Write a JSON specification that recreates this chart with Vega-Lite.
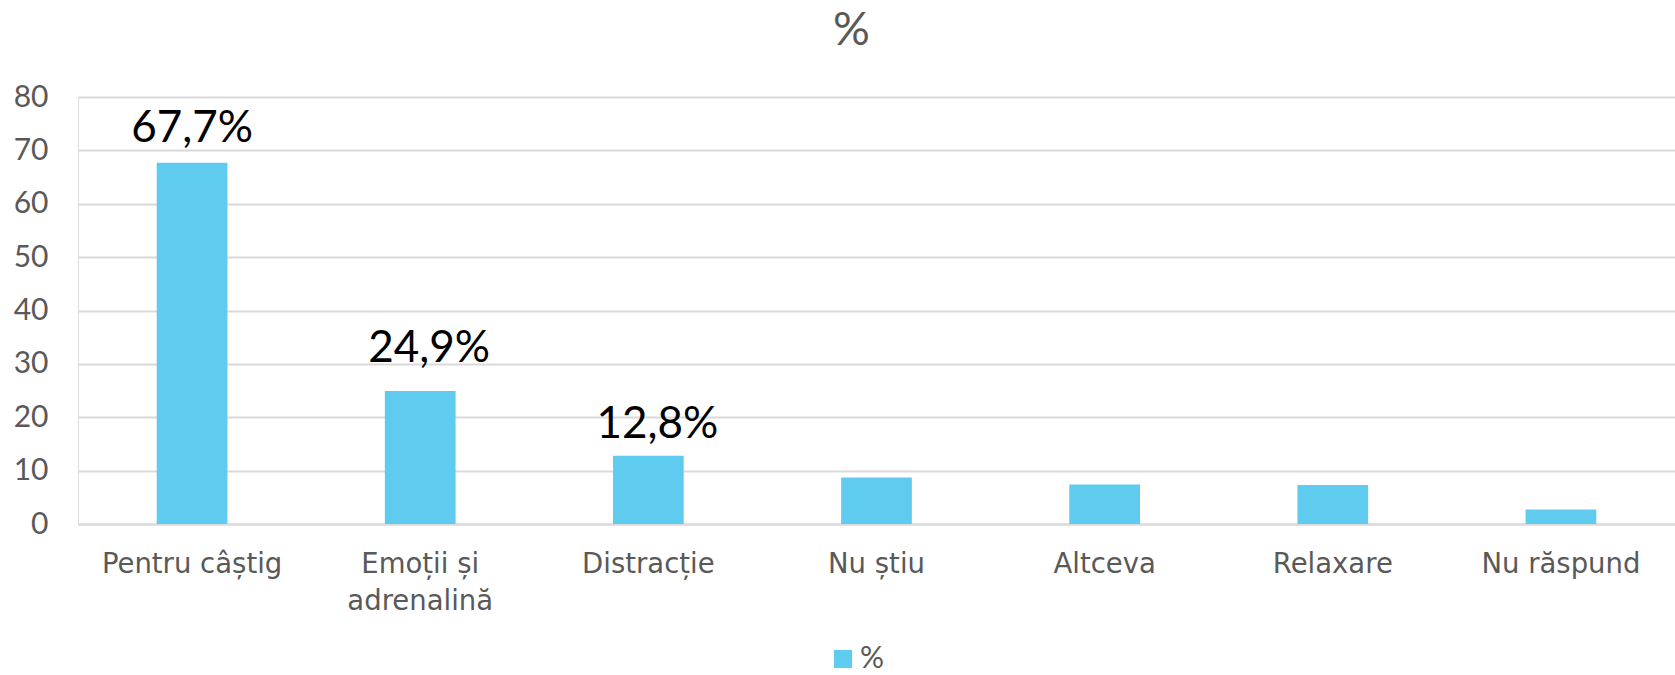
{
  "$schema": "https://vega.github.io/schema/vega-lite/v6.json",
  "width": 1597,
  "height": 427,
  "autosize": {"type": "none"},
  "padding": {"left": 78, "top": 97, "right": 0, "bottom": 151},
  "background": "white",
  "title": {"text": "%", "fontSize": 46, "font": "Lato", "fontWeight": "normal", "color": "#595959", "anchor": "middle", "dx": -25, "offset": 27},
  "data": {"values": [
    {"cat": "Pentru câștig", "v": 67.7, "label": "67,7%"},
    {"cat": "Emoții și adrenalină", "v": 24.9, "label": "24,9%"},
    {"cat": "Distracție", "v": 12.8, "label": "12,8%"},
    {"cat": "Nu știu", "v": 8.7, "label": ""},
    {"cat": "Altceva", "v": 7.4, "label": ""},
    {"cat": "Relaxare", "v": 7.3, "label": ""},
    {"cat": "Nu răspund", "v": 2.7, "label": ""}
  ]},
  "encoding": {
    "x": {"field": "cat", "type": "nominal", "sort": null, "title": null,
      "scale": {"paddingInner": 0.69, "paddingOuter": 0.345},
      "axis": {"labelAngle": 0, "labelFont": "DejaVu Sans", "labelFontSize": 27.5, "labelColor": "#595959", "labelPadding": 26, "labelLineHeight": 37, "labelBaseline": "top", "ticks": false, "domainColor": "#d9d9d9", "domainWidth": 2, "labelLimit": 400,
        "labelExpr": "datum.value == 'Emoții și adrenalină' ? ['Emoții și', 'adrenalină'] : datum.value"}},
    "y": {"field": "v", "type": "quantitative", "title": null,
      "scale": {"domain": [0, 80], "nice": false},
      "axis": {"values": [0, 10, 20, 30, 40, 50, 60, 70, 80], "labelFont": "Lato", "labelFontSize": 30, "labelColor": "#595959", "labelPadding": 30, "ticks": false, "domain": false, "gridColor": "#d9d9d9", "gridWidth": 2}}
  },
  "layer": [
    {"mark": {"type": "bar"},
     "encoding": {"color": {"datum": "%", "scale": {"range": ["#5FCCEF"]},
       "legend": {"title": null, "orient": "none", "legendX": 750, "legendY": 547, "symbolType": "square", "symbolSize": 330, "symbolStrokeWidth": 0, "labelFont": "Lato", "labelFontSize": 30, "labelColor": "#595959", "labelOffset": 2}}}},
    {"transform": [{"filter": "datum.cat == 'Pentru câștig'"}],
     "mark": {"type": "text", "baseline": "alphabetic", "dy": -21, "font": "Lato", "fontSize": 44, "color": "#000000"},
     "encoding": {"text": {"field": "label"}}},
    {"transform": [{"filter": "datum.cat == 'Emoții și adrenalină'"}],
     "mark": {"type": "text", "baseline": "alphabetic", "dx": 9, "dy": -29, "font": "Lato", "fontSize": 44, "color": "#000000"},
     "encoding": {"text": {"field": "label"}}},
    {"transform": [{"filter": "datum.cat == 'Distracție'"}],
     "mark": {"type": "text", "baseline": "alphabetic", "dx": 9, "dy": -18, "font": "Lato", "fontSize": 44, "color": "#000000"},
     "encoding": {"text": {"field": "label"}}}
  ]
}
